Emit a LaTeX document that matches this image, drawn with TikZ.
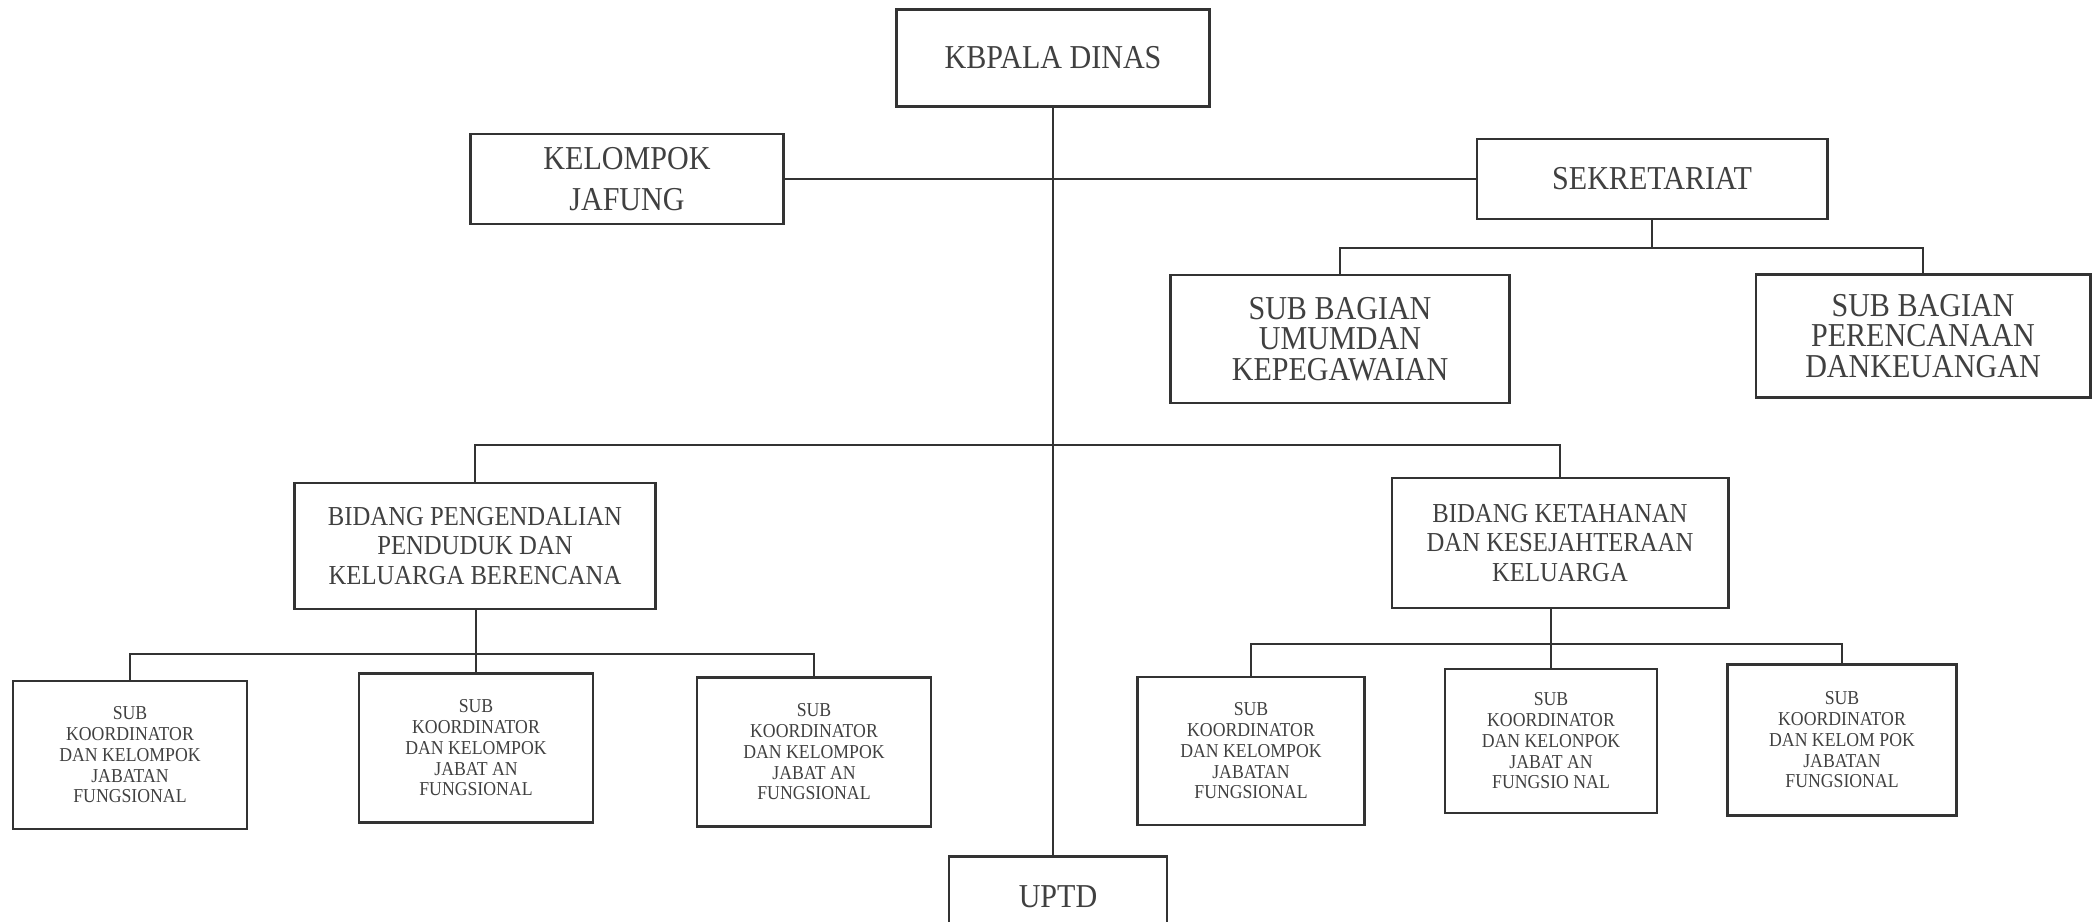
\documentclass[tikz,border=0pt]{standalone}
\usepackage{fontspec}
\setmainfont{Liberation Serif}[FakeStretch=0.9]
\usepackage{tikz}
\usetikzlibrary{positioning, calc}
\tikzset{
  unit/.style={rectangle, draw=black!80, line width=0.8pt, text=black!75, align=center, inner sep=1pt},
  headbox/.style={unit, font=\fontsize{9.5}{11.5}\selectfont},
  subbag/.style={unit, font=\fontsize{9.5}{8.6}\selectfont},
  bidbox/.style={unit, font=\fontsize{7.8}{8.3}\selectfont},
  subbox/.style={unit, font=\fontsize{5.6}{5.9}\selectfont},
  link/.style={draw=black!80, line width=0.5pt},
}
\begin{document}
\begin{tikzpicture}[x=0.01cm, y=-0.01cm]
  \useasboundingbox (0,0) rectangle (2094,921);
  \node[headbox, minimum width=3.13cm, minimum height=0.97cm] (kadis) at (1053,58) {KBPALA DINAS};
  \node[headbox, minimum width=3.13cm, minimum height=0.90cm] (jafung) at (627,179) {KELOMPOK\\JAFUNG};
  \node[headbox, minimum width=3.50cm, minimum height=0.80cm] (sekre) at (1652,179) {SEKRETARIAT};
  \node[subbag, minimum width=3.39cm, minimum height=1.28cm] (umum) at (1340,339) {SUB BAGIAN\\UMUMDAN\\KEPEGAWAIAN};
  \node[subbag, minimum width=3.34cm, minimum height=1.23cm] (renc) at (1923,336) {SUB BAGIAN\\PERENCANAAN\\DANKEUANGAN};
  \node[bidbox, minimum width=3.61cm, minimum height=1.26cm] (bid1) at (475,546) {BIDANG PENGENDALIAN\\PENDUDUK DAN\\KELUARGA BERENCANA};
  \node[bidbox, minimum width=3.36cm, minimum height=1.30cm] (bid2) at (1560,543) {BIDANG KETAHANAN\\DAN KESEJAHTERAAN\\KELUARGA};
  \node[subbox, minimum width=2.34cm, minimum height=1.48cm] (sub1) at (130,755) {SUB\\KOORDINATOR\\DAN KELOMPOK\\JABATAN\\FUNGSIONAL};
  \node[subbox, minimum width=2.34cm, minimum height=1.49cm] (sub2) at (476,748) {SUB\\KOORDINATOR\\DAN KELOMPOK\\JABAT AN\\FUNGSIONAL};
  \node[subbox, minimum width=2.34cm, minimum height=1.49cm] (sub3) at (814,752) {SUB\\KOORDINATOR\\DAN KELOMPOK\\JABAT AN\\FUNGSIONAL};
  \node[subbox, minimum width=2.27cm, minimum height=1.48cm] (sub4) at (1251,751) {SUB\\KOORDINATOR\\DAN KELOMPOK\\JABATAN\\FUNGSIONAL};
  \node[subbox, minimum width=2.12cm, minimum height=1.44cm] (sub5) at (1551,741) {SUB\\KOORDINATOR\\DAN KELONPOK\\JABAT AN\\FUNGSIO NAL};
  \node[subbox, minimum width=2.29cm, minimum height=1.51cm] (sub6) at (1842,740) {SUB\\KOORDINATOR\\DAN KELOM POK\\JABATAN\\FUNGSIONAL};
  \node[headbox, anchor=north, minimum width=2.18cm, minimum height=0.80cm] (uptd) at (1058,855) {UPTD};
  \coordinate (sbus) at (0,248);
  \coordinate (bbus) at (0,445);
  \coordinate (lbus) at (0,654);
  \coordinate (rbus) at (0,644);
  \draw[link] (kadis.south) -- (kadis.south |- uptd.north);
  \draw[link] (jafung.east) -- (sekre.west);
  \draw[link] (sekre.south) -- (sekre.south |- sbus);
  \draw[link] (umum.north) |- (sekre.south |- sbus) -| (renc.north);
  \draw[link] (bid1.north) |- (kadis.south |- bbus) -| (bid2.north);
  \draw[link] (bid1.south -| sub2.north) -- (sub2.north);
  \draw[link] (sub1.north) |- (sub2.north |- lbus) -| (sub3.north);
  \draw[link] (bid2.south -| sub5.north) -- (sub5.north);
  \draw[link] (sub4.north) |- (sub5.north |- rbus) -| (sub6.north);
\end{tikzpicture}
\end{document}
